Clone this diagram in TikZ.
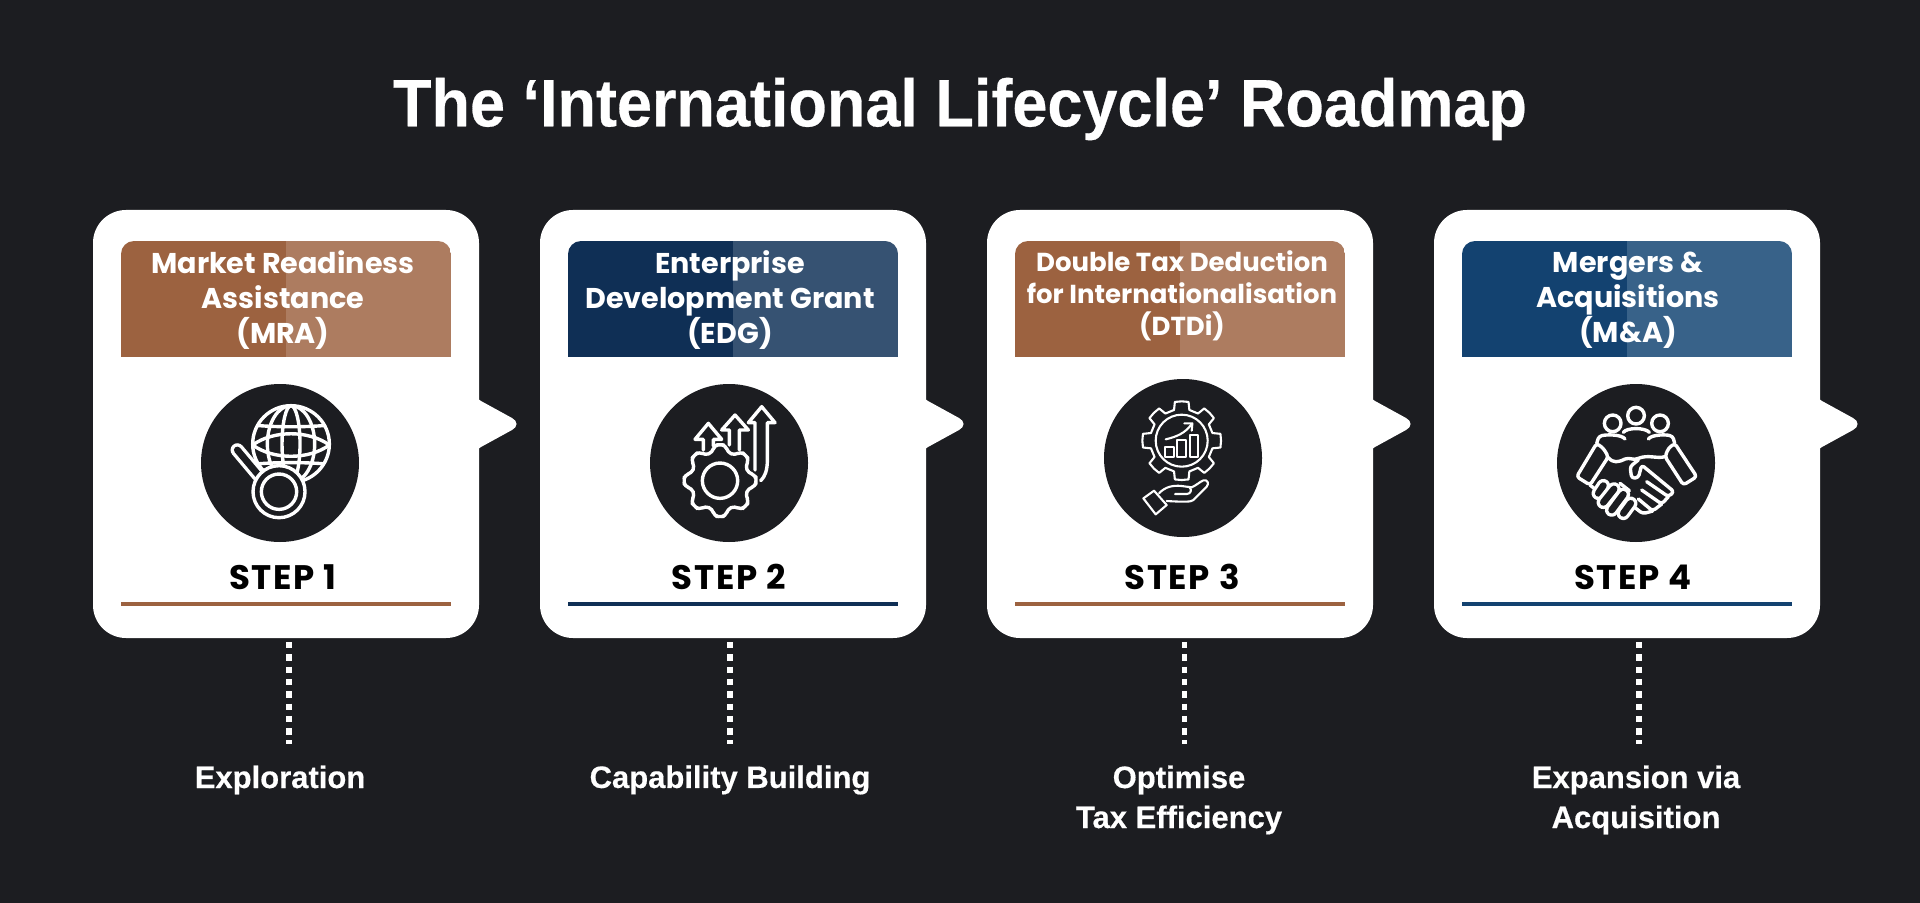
\documentclass[tikz,border=0pt]{standalone}
\usepackage{fontspec}
\setmainfont{Liberation Sans}
\newfontfamily\popf{Poppins}
\newfontfamily\stepf[LetterSpace=5]{Poppins}
\newfontfamily\ttlf[FakeStretch=0.94,FakeBold=0.4]{Liberation Sans}
\newfontfamily\subf[FakeBold=0.4]{Liberation Sans}
\definecolor{bgc}{HTML}{1C1D21}
\definecolor{brownA}{HTML}{9C6240}
\definecolor{brownB}{HTML}{AD7C60}
\definecolor{navyA}{HTML}{0F2F55}
\definecolor{navyB}{HTML}{365272}
\definecolor{blueA}{HTML}{134270}
\definecolor{blueB}{HTML}{386289}
\tikzset{
 px/.style={x=0.5pt,y=-0.5pt},
 ttl/.style={text=white,font=\ttlf\fontsize{33.5}{38}\selectfont\bfseries,inner sep=0},
 hdr/.style={text=white,font=\popf\fontsize{14.3}{17.5}\selectfont\bfseries,align=center,inner sep=0},
 hdrs/.style={text=white,font=\popf\fontsize{13}{16}\selectfont\bfseries,align=center,inner sep=0},
 stp/.style={text=black,font=\stepf\fontsize{17}{18}\selectfont\bfseries,inner sep=0},
 sub/.style={text=white,font=\subf\fontsize{15.5}{20}\selectfont\bfseries,align=center,inner sep=0},
 dotline/.style={white,line width=2.7pt,dash pattern=on 3.2pt off 2.95pt},
 ic/.style={white,line width=1.7pt,line join=round,line cap=round},
 icf/.style={white,fill=bgc,line width=1.7pt,line join=round,line cap=round},
 ict/.style={white,line width=1.05pt,line join=round,line cap=round},
 caps/.style={white,line width=6.8pt,line cap=round},
 capi/.style={bgc,line width=3.4pt,line cap=round},
}
\newcommand{\card}[3]{%
 \begin{scope}[shift={(#1,0)}]
 \fill[white,rounded corners=16.5pt] (0,117) -- (0,0) -- (386,0) -- (386,428) -- (0,428) -- cycle;
 \fill[white] (380,186) -- (383,186) .. controls (385,189) and (386,190) .. (388,191) -- (419,208) .. controls (425,211) and (425,217) .. (419,220) -- (388,237) .. controls (386,238) and (385,239) .. (383,242) -- (380,242) -- cycle;
 \begin{scope}
 \clip[rounded corners=6.5pt] (28,31) rectangle (358,180);
 \fill[#2] (28,31) rectangle (193,147);
 \fill[#3] (193,31) rectangle (358,147);
 \end{scope}
 \fill[#2] (28,392) rectangle (358,396);
 \end{scope}}
\newcommand{\capsule}[2]{\draw[caps] #1 -- #2; \draw[capi] #1 -- #2;}
\begin{document}
\begin{tikzpicture}[px]
\useasboundingbox (0,0) rectangle (1920,903);
\fill[bgc] (0,0) rectangle (1920,903);
\node[ttl] (title) at (960,109) {The ‘International Lifecycle’ Roadmap};
\begin{scope}[shift={(0,210)}]
\card{93}{brownA}{brownB}
\card{540}{navyA}{navyB}
\card{987}{brownA}{brownB}
\card{1434}{blueA}{blueB}
\end{scope}
% headers
\node[hdr] (h1) at (283,300) {Market Readiness\\Assistance\\(MRA)};
\node[hdr] (h2) at (730,300) {Enterprise\\Development Grant\\(EDG)};
\node[hdrs] (h3) at (1182,296) {Double Tax Deduction\\for Internationalisation\\(DTDi)};
\node[hdr] (h4) at (1628,300) {Mergers \&\\Acquisitions\\(M\&A)};
% steps
\node[stp] (s1) at (283,577) {STEP 1};
\node[stp] (s2) at (729,577) {STEP 2};
\node[stp] (s3) at (1182,577) {STEP 3};
\node[stp] (s4) at (1633,577) {STEP 4};
% circles
\node[circle,fill=bgc,minimum size=79pt,inner sep=0] (c1) at (280,463) {};
\node[circle,fill=bgc,minimum size=79pt,inner sep=0] (c2) at (729,463) {};
\node[circle,fill=bgc,minimum size=79pt,inner sep=0] (c3) at (1183,458) {};
\node[circle,fill=bgc,minimum size=79pt,inner sep=0] (c4) at (1636,463) {};
% dots + labels
\coordinate (d1) at (289,642); \coordinate (e1) at (289,744);
\coordinate (d2) at (730,642); \coordinate (e2) at (730,744);
\coordinate (d3) at (1184.5,642); \coordinate (e3) at (1184.5,744);
\coordinate (d4) at (1639,642); \coordinate (e4) at (1639,744);
\draw[dotline] (d1)--(e1); \draw[dotline] (d2)--(e2); \draw[dotline] (d3)--(e3); \draw[dotline] (d4)--(e4);
\node[sub] (l1) at (280,780) {Exploration};
\node[sub] (l2) at (730,780) {Capability Building};
\node[sub] (l3) at (1179,800) {Optimise\\Tax Efficiency};
\node[sub] (l4) at (1636,800) {Expansion via\\Acquisition};
% ICON 1
\begin{scope}[shift={(190,370)},x=0.1667pt,y=-0.1667pt]
 \begin{scope}
 \clip (303,222) circle (115);
 \draw[ic] (303,222) ellipse (71 and 115);
 \draw[ic] (303,222) ellipse (27 and 115);
 \draw[ic] (188,225) .. controls (250,180) and (356,180) .. (418,225) .. controls (356,270) and (250,270) .. (188,225);
 \draw[ic] (188,165) .. controls (250,172) and (356,172) .. (418,165);
 \draw[ic] (188,283) .. controls (250,276) and (356,276) .. (418,283);
 \end{scope}
 \draw[ic] (303,222) circle (115);
 \draw[caps] (205,315) -- (142,240);
 \draw[capi] (205,315) -- (142,240);
 \draw[icf] (267,365) circle (78);
 \draw[ic] (267,365) circle (53);
\end{scope}
% ICON 2
\begin{scope}[shift={(630,370)},x=0.1667pt,y=-0.1667pt]
 \draw[ic] (220,240) -- (220,208) -- (195,208) -- (235,160) -- (275,208) -- (250,208) -- (250,228);
 \draw[ic] (298,225) -- (298,180) -- (275,180) -- (315,135) -- (355,180) -- (328,180) -- (328,240);
 \draw[ic] (375,300) -- (375,158) -- (355,158) -- (395,110) -- (435,158) -- (412,158) -- (412,270) .. controls (412,300) and (405,320) .. (392,332);
 \begin{scope}[shift={(270,332)}]
 \draw[icf,rounded corners=2pt] (0:108) \foreach \a in {0,45,...,315}{
   -- ({\a+9}:108) -- ({\a+15}:88) -- ({\a+30}:88) -- ({\a+36}:108) -- ({\a+45}:108)} -- cycle;
 \draw[ic] (0,0) circle (53);
 \end{scope}
\end{scope}
% ICON 3
\begin{scope}[shift={(1085,370)},x=0.1667pt,y=-0.1667pt]
 \begin{scope}[shift={(290,212)}]
 \draw[ict] (0:118) \foreach \a in {0,45,...,315}{
   -- ({\a+10}:118) -- ({\a+14}:95) -- ({\a+31}:95) -- ({\a+35}:118) -- ({\a+45}:118)} -- cycle;
 \draw[ict] (0,0) circle (78);
 \end{scope}
 \draw[ict] (240,232) rectangle (267,260);
 \draw[ict] (277,210) rectangle (304,260);
 \draw[ict] (314,195) rectangle (340,260);
 \draw[ict] (242,208) .. controls (275,200) and (300,190) .. (320,162);
 \draw[ict] (298,160) -- (322,160) -- (320,182);
 \draw[ict] (175,385) -- (207,362) -- (245,405) -- (212,433) -- cycle;
 \draw[ict] (222,370) .. controls (240,350) and (265,345) .. (290,348) -- (320,352) .. controls (335,345) and (345,335) .. (355,331) .. controls (368,328) and (373,340) .. (365,350) -- (325,390) .. controls (318,396) and (300,396) .. (245,393);
 \draw[ict] (270,372) -- (305,372) .. controls (318,372) and (322,358) .. (312,350);
\end{scope}
% ICON 4
\begin{scope}[shift={(1535,370)},x=0.1667pt,y=-0.1667pt]
 \draw[ic] (233,160) circle (25);
 \draw[ic] (303,137) circle (25);
 \draw[ic] (375,160) circle (25);
 \draw[ic] (265,187) .. controls (275,172) and (330,172) .. (343,187);
\end{scope}
\begin{scope}[shift={(1570,425)},x=0.1667pt,y=-0.1667pt]
 \draw[ic] (165,42) .. controls (155,28) and (110,28) .. (95,32) .. controls (85,35) and (82,45) .. (80,55);
 \draw[ic] (235,42) .. controls (245,28) and (290,28) .. (300,32) .. controls (310,35) and (312,45) .. (314,55);
 \draw[ic,rounded corners=1.5pt] (80,55) -- (20,155) -- (60,180) -- (115,95) -- (100,70) -- cycle;
 \draw[ic,rounded corners=1.5pt] (314,55) -- (380,155) -- (340,180) -- (285,95) -- (295,70) -- cycle;
 \draw[ic] (115,98) .. controls (130,115) and (145,112) .. (165,102) .. controls (180,96) and (190,108) .. (205,100) .. controls (235,88) and (260,102) .. (285,95);
 \draw[ic,rounded corners=1.5pt] (205,105) -- (180,125) -- (185,160) -- (205,158) -- (215,120) -- (312,200) -- (295,215) -- (230,170);
 \draw[ic,rounded corners=1.5pt] (295,215) -- (275,237) -- (215,195);
 \draw[ic,rounded corners=1.5pt] (275,237) -- (248,258) -- (205,222);
 \draw[ic,rounded corners=1.5pt] (248,258) -- (218,266) -- (195,248);
 \draw[ic] (60,180) -- (72,190);
 \draw[ic] (150,175) -- (178,197);
 \capsule{(100,182)}{(85,205)}
 \capsule{(132,192)}{(100,232)}
 \capsule{(160,208)}{(125,255)}
 \capsule{(182,235)}{(160,265)}
\end{scope}
\end{tikzpicture}
\end{document}
